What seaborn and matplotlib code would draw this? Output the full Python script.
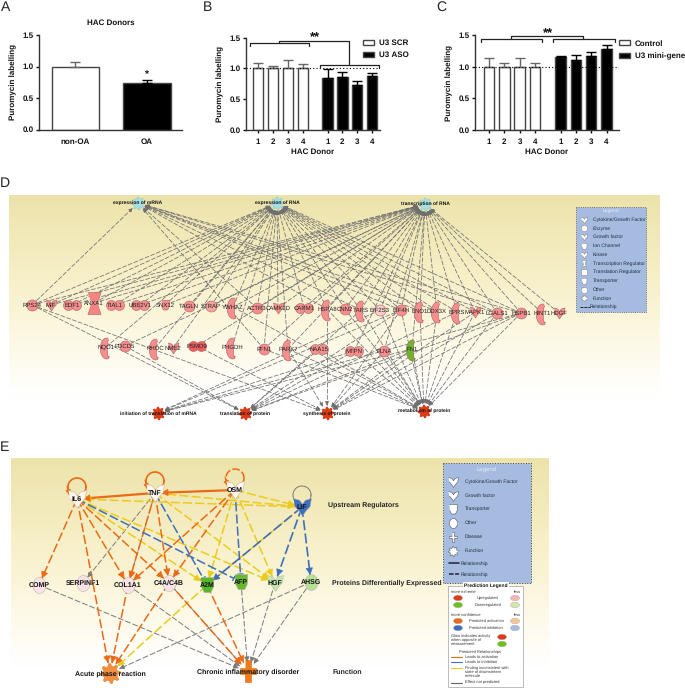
#!/usr/bin/env python
# -*- coding: utf-8 -*-
import numpy as np
import pandas as pd
import matplotlib
matplotlib.use("Agg")
import matplotlib.pyplot as plt
import seaborn as sns
from matplotlib.colors import LinearSegmentedColormap
from matplotlib.patches import Ellipse, Rectangle
from matplotlib.path import Path

# ---- bar chart values ----
a_labels = ["non-OA", "OA"]
a_means = [1.0, 0.745]
a_errs = [0.07, 0.04]

donors = ["1", "2", "3", "4", "1", "2", "3", "4"]

b_groups = ["U3 SCR"] * 4 + ["U3 ASO"] * 4
b_means = [1.0, 1.0, 1.0, 1.0, 0.84, 0.865, 0.73, 0.87]
b_errs = [0.09, 0.04, 0.13, 0.065, 0.145, 0.07, 0.06, 0.06]

c_groups = ["Control"] * 4 + ["U3 mini-gene"] * 4
c_means = [1.0, 1.0, 1.0, 1.0, 1.147, 1.10, 1.174, 1.274]
c_errs = [0.13, 0.063, 0.13, 0.058, 0.027, 0.09, 0.05, 0.075]

# ---- panel D network ----
d_functions_top = ["expression of mRNA", "expression of RNA", "transcription of RNA"]
d_functions_bottom = ["initiation of translation of mRNA", "translation of protein",
                      "synthesis of protein", "metabolism of protein"]
d_row1 = ["RPS24", "MIF", "EDF1", "ANXA1", "TIAL1", "UBE2V1", "SNX12", "TAGLN", "STRAP", "YWHAZ",
          "ACTR3", "CAMK2D", "CARM1", "HSPA8", "CNN2", "TARS", "EIF2S3", "EIF4H", "ENO1", "DDX3X",
          "EPRS", "MAPK1", "LGALS1", "HSPB1", "HINT1", "HDGF"]
d_row2 = ["NQO1", "PDCD5", "RHOC", "NME2", "PSMD9", "PHGDH", "PFN1", "PARK7", "NAA15", "MTPN",
          "FLNA", "FN1"]
d_to_mrna = ["RPS24", "PFN1", "ACTR3", "HSPA8", "TARS", "EIF4H", "DDX3X", "HSPB1", "ENO1", "LGALS1"]
d_to_rna = ["RPS24", "MIF", "EDF1", "ANXA1", "TIAL1", "UBE2V1", "SNX12", "TAGLN", "STRAP", "YWHAZ",
            "ACTR3", "CAMK2D", "CARM1", "HSPA8", "CNN2", "TARS", "EIF2S3", "EIF4H", "ENO1", "DDX3X",
            "EPRS", "MAPK1", "LGALS1", "HSPB1", "NQO1", "RHOC", "NME2", "PHGDH", "PFN1", "PARK7"]
d_to_transcription = ["RPS24", "MIF", "EDF1", "ANXA1", "TIAL1", "UBE2V1", "SNX12", "STRAP", "YWHAZ",
                      "ACTR3", "CAMK2D", "CARM1", "HSPA8", "CNN2", "TARS", "EIF2S3", "EIF4H", "ENO1",
                      "DDX3X", "EPRS", "MAPK1", "LGALS1", "HSPB1", "HINT1", "HDGF", "PDCD5", "PSMD9",
                      "PFN1", "PARK7", "MTPN", "FLNA", "FN1"]
d_to_initiation = ["EIF4H", "EIF2S3", "HSPB1", "MTPN", "FN1"]
d_to_translation = ["RPS24", "PDCD5", "NAA15", "EPRS", "TARS", "EIF4H", "FN1", "MTPN", "HSPB1"]
d_to_synthesis = ["RPS24", "PSMD9", "PARK7", "MAPK1", "HSPA8", "EIF4H", "HSPB1", "FN1", "FLNA", "LGALS1"]
d_to_metabolism = ["ENO1", "DDX3X", "EPRS", "MAPK1", "LGALS1", "HSPB1", "FN1", "CNN2", "TARS", "HSPA8",
                   "EIF2S3", "EIF4H", "PARK7", "MTPN", "FLNA", "NAA15", "PFN1", "YWHAZ"]
d_legend = ["Cytokine/Growth Factor", "Enzyme", "Growth factor", "Ion Channel", "Kinase",
            "Transcription Regulator", "Translation Regulator", "Transporter", "Other", "Function"]

# ---- panel E network ----
e_regulators = ["IL6", "TNF", "OSM", "LIF"]
e_proteins = ["COMP", "SERPINF1", "COL1A1", "C4A/C4B", "A2M", "AFP", "HGF", "AHSG"]
e_outcomes = ["Acute phase reaction", "Chronic inflammatory disorder"]
e_rows = ["Upstream Regulators", "Proteins Differentially Expressed", "Function"]
e_orange = [("IL6", "COMP"), ("IL6", "COL1A1"), ("IL6", "C4A/C4B"), ("IL6", "Acute phase reaction"),
            ("TNF", "C4A/C4B"), ("TNF", "COL1A1"), ("OSM", "COL1A1"), ("OSM", "C4A/C4B"),
            ("COL1A1", "Acute phase reaction"), ("C4A/C4B", "Acute phase reaction"),
            ("C4A/C4B", "Chronic inflammatory disorder"), ("A2M", "Chronic inflammatory disorder")]
e_yellow = [("TNF", "LIF"), ("OSM", "LIF"), ("LIF", "IL6"), ("IL6", "A2M"), ("IL6", "HGF"),
            ("TNF", "HGF"), ("OSM", "A2M"), ("OSM", "HGF"), ("LIF", "A2M"),
            ("A2M", "Acute phase reaction")]
e_blue = [("LIF", "A2M"), ("LIF", "HGF"), ("LIF", "AHSG")]
e_blue_block = [("IL6", "AFP"), ("TNF", "A2M"), ("OSM", "AFP")]
e_grey = [("TNF", "SERPINF1"), ("TNF", "COL1A1"), ("COMP", "Chronic inflammatory disorder"),
          ("COL1A1", "Chronic inflammatory disorder"), ("C4A/C4B", "Chronic inflammatory disorder"),
          ("AFP", "Chronic inflammatory disorder"), ("HGF", "Chronic inflammatory disorder"),
          ("AHSG", "Chronic inflammatory disorder"), ("AHSG", "Acute phase reaction")]
e_legend = ["Cytokine/Growth Factor", "Growth factor", "Transporter", "Other", "Disease", "Function"]

# ---- node positions in image pixels (layout only) ----
d_xy = dict(zip(d_functions_top, [(138, 203), (277, 203), (425, 204)]))
d_xy.update(zip(d_functions_bottom, [(158, 413), (245, 413), (327, 413), (424, 411)]))
d_row1_x = [32, 51, 72, 94, 115, 140, 165, 189, 211, 233, 257, 278, 304, 327, 345, 361, 380, 401,
            420, 437, 457, 475, 497, 521, 542, 559]
d_row1_y = [305, 305, 305, 303, 305, 305, 305, 306, 306, 307, 308, 308, 308, 309, 309, 310, 310, 310,
            311, 311, 312, 312, 313, 313, 313, 313]
d_row2_x = [106, 125, 155, 173, 197, 232, 264, 288, 319, 354, 384, 412]
d_row2_y = [347, 346, 348, 348, 346, 347, 349, 349, 349, 351, 351, 349]
d_xy.update({n: (x, y) for n, x, y in zip(d_row1, d_row1_x, d_row1_y)})
d_xy.update({n: (x, y) for n, x, y in zip(d_row2, d_row2_x, d_row2_y)})
e_xy = dict(zip(e_regulators, [(77, 499), (155, 493), (235, 490), (302, 507)]))
e_xy.update(zip(e_proteins, [(39, 585), (83, 583), (128, 585), (169, 583), (207, 585), (241, 582),
                             (275, 583), (311, 582)]))
e_xy.update(zip(e_outcomes, [(110, 673), (248, 672)]))

SANS = ["Liberation Sans", "DejaVu Sans"]
W, H = 685, 690
CHART_FS = 6

sns.set_theme(style="ticks", rc={"axes.linewidth": 1.0, "axes.edgecolor": "#333333",
                                 "xtick.color": "#111111", "ytick.color": "#111111",
                                 "axes.labelcolor": "#111111", "text.color": "#111111"})
plt.rcParams["font.family"] = SANS
# hinting widens the small labels a lot, glyph widths stay true without it
plt.rcParams["text.hinting"] = "no_hinting"
plt.rcParams["text.hinting_factor"] = 1

fig = plt.figure(figsize=(W / 100, H / 100), dpi=100)


def add_axes_px(left, right, top, bottom):
    return fig.add_axes([left / W, 1 - bottom / H, (right - left) / W, (bottom - top) / H])


def draw_bars(ax, pos, means, errs, groups, colors, width):
    df = pd.DataFrame({"pos": pos, "mean": means, "group": groups})
    sns.barplot(data=df, x="pos", y="mean", hue="group", palette=colors, dodge=False, native_scale=True,
                width=width, errorbar=None, edgecolor="#444444", linewidth=1.0, ax=ax)
    for p, m, e, g in zip(pos, means, errs, groups):
        col = "#666666" if colors[g] == "white" else "black"
        ax.errorbar([p], [m], yerr=[[0], [e]], fmt="none", ecolor=col, elinewidth=1.0, capsize=3.5, capthick=1.0)
    ax.set_ylim(0, 1.5)
    ax.set_yticks([0, 0.5, 1.0, 1.5])
    ax.set_yticklabels(["0.0", "0.5", "1.0", "1.5"], fontweight="bold", fontsize=CHART_FS)
    ax.set_ylabel("Puromycin labelling", fontweight="bold", fontsize=CHART_FS, labelpad=4)
    ax.tick_params(axis="both", length=2, width=1, pad=2)
    sns.despine(ax=ax)


# Panel A
ax_a = add_axes_px(39, 182, 35, 129.5)
draw_bars(ax_a, [0, 1], a_means, a_errs, a_labels, {"non-OA": "white", "OA": "black"}, 0.665)
if ax_a.get_legend():
    ax_a.get_legend().remove()
ax_a.set_xlim(-0.51, 1.49)
ax_a.set_xticks([0, 1])
ax_a.set_xticklabels(a_labels, fontweight="bold", fontsize=CHART_FS)
ax_a.tick_params(axis="x", length=0, pad=6)
ax_a.set_xlabel("")
ax_a.set_title("HAC Donors", fontweight="bold", fontsize=CHART_FS, pad=7)
ax_a.text(1, 0.80, "*", ha="center", va="bottom", fontweight="bold", fontsize=7)

# Panel B and C share the same layout
group_pos = [0, 1, 2, 3, 4.67, 5.67, 6.67, 7.67]
panels = [(b_means, b_errs, b_groups, {"U3 SCR": "white", "U3 ASO": "black"}, (246, 380, 37.7, 130),
           (-0.8, 8.19), (0.873, 0.98), 0.55),
          (c_means, c_errs, c_groups, {"Control": "white", "U3 mini-gene": "black"}, (475, 619, 35, 130),
           (-0.91, 8.48), (1.0, 0.95), 0.65)]
for means, errs, groups, colors, rect, xlim, anchor, spacing in panels:
    ax = add_axes_px(*rect)
    draw_bars(ax, group_pos, means, errs, groups, colors, 0.68)
    ax.axhline(1.0, color="black", lw=0.8, ls=(0, (1, 2)), zorder=5)
    ax.set_xlim(*xlim)
    ax.set_xticks(group_pos)
    ax.set_xticklabels(donors, fontweight="bold", fontsize=CHART_FS)
    ax.tick_params(axis="x", length=2, pad=4)
    ax.set_xlabel("HAC Donor", fontweight="bold", fontsize=CHART_FS, labelpad=2)
    sns.move_legend(ax, loc="upper left", bbox_to_anchor=anchor, title=None, frameon=False,
                    prop={"weight": "bold", "size": CHART_FS}, handlelength=1.35, handleheight=0.5,
                    handletextpad=0.55, labelspacing=spacing, borderpad=0, borderaxespad=0)

# overlay in image pixels for brackets, panel letters and both networks
ov = fig.add_axes([0, 0, 1, 1], zorder=5)
ov.patch.set_alpha(0)
ov.set_axis_off()


def gradient(x0, x1, y0, y1):
    cmap = LinearSegmentedColormap.from_list("bg", [(0, "#ece3ab"), (0.35, "#f7efc6"), (0.65, "#fdf9e6"),
                                                    (0.9, "#ffffff"), (1, "#ffffff")])
    ov.imshow(np.linspace(0, 1, 256).reshape(-1, 1), extent=(x0, x1, y1, y0), cmap=cmap, aspect="auto", zorder=0)


gradient(9.5, 660, 195, 420)
gradient(11, 549, 458, 690)
ov.set_xlim(0, W)
ov.set_ylim(H, 0)

for letter, x, y in [("A", 6, 7), ("B", 208, 7), ("C", 441, 7), ("D", 5, 183), ("E", 5, 447)]:
    ov.text(x, y, letter, ha="center", va="center", fontsize=10, color="#222222")


# significance brackets
def bracket(x0, x1, y, tick=3):
    ov.plot([x0, x0, x1, x1], [y + tick, y, y, y + tick], color="#222222", lw=0.9, zorder=3)


bracket(250, 309, 43)
bracket(320, 379, 65)
ov.plot([279, 279, 349, 349], [43, 41, 41, 64], color="#222222", lw=0.9, zorder=3)
ov.text(315, 38, "**", ha="center", va="center", fontweight="bold", fontsize=9)
bracket(481, 542, 39)
bracket(553, 615, 39)
ov.plot([511, 511, 583, 583], [39, 36, 36, 39], color="#222222", lw=0.9, zorder=3)
ov.text(548, 34, "**", ha="center", va="center", fontweight="bold", fontsize=9)


# ---- node shapes ----
def gear_path(teeth=8):
    ang = np.linspace(0, 2 * np.pi, teeth * 4, endpoint=False)
    r = np.tile([1, 1, 0.72, 0.72], teeth)
    return Path(np.c_[r * np.cos(ang), r * np.sin(ang)])


def crescent_path():
    t = np.linspace(np.pi * 0.42, np.pi * 1.62, 24)
    outer = np.c_[0.6 * np.cos(t) + 0.1, np.sin(t)]
    inner = np.c_[0.12 * np.cos(t[::-1]) + 0.3, 0.8 * np.sin(t[::-1])]
    return Path(np.r_[outer, inner])


def ellipse_path():
    t = np.linspace(0, 2 * np.pi, 40, endpoint=False)
    return Path(np.c_[0.8 * np.cos(t), np.sin(t)])


V_SHAPE = Path([(-1, 1), (-0.3, 0.8), (0, 0.35), (0.3, 0.8), (1, 1), (0.85, 0.1), (0.35, -0.45),
                (0, -1), (-0.35, -0.45), (-0.85, 0.1)])
BOWL = Path([(-0.8, 1), (0.8, 1), (0.75, -0.2), (0.4, -0.9), (-0.4, -0.9), (-0.75, -0.2)])
HOURGLASS = Path([(-0.6, 1), (0.6, 1), (0.25, 0), (0.6, -1), (-0.6, -1), (-0.25, 0)])
CROSS = Path([(-0.28, 1), (0.28, 1), (0.28, 0.3), (0.75, 0.3), (0.75, -0.3), (0.28, -0.3), (0.28, -1),
              (-0.28, -1), (-0.28, -0.3), (-0.75, -0.3), (-0.75, 0.3), (-0.28, 0.3)])


def node(x, y, marker, size, color, edge="#b06060", zorder=4):
    ov.scatter([x], [y], marker=marker, s=(size * 0.72) ** 2, color=color, edgecolors=edge, linewidths=0.4, zorder=zorder)


def edge(p, q, color, lw=0.6, ls=(0, (6, 2)), head=4, gap=5, block=False):
    p, q = np.array(p, float), np.array(q, float)
    d = (q - p) / np.hypot(*(q - p))
    end = q - d * gap
    ov.plot([p[0], end[0]], [p[1], end[1]], color=color, lw=lw, ls=ls, zorder=2)
    if block:
        n = np.array([-d[1], d[0]]) * 2.5
        ov.plot([end[0] - n[0], end[0] + n[0]], [end[1] - n[1], end[1] + n[1]], color=color, lw=1.0, zorder=2)
    else:
        ov.annotate("", xy=end, xytext=end - d * head,
                    arrowprops=dict(arrowstyle="-|>,head_width=0.2,head_length=0.4", color=color, lw=0.5,
                                    shrinkA=0, shrinkB=0, mutation_scale=head * 1.6), zorder=3)


# ---- panel D ----
D_GREY = "#6f6f6f"
links = [(d_to_mrna, d_functions_top[0]), (d_to_rna, d_functions_top[1]), (d_to_transcription, d_functions_top[2]),
         (d_to_initiation, d_functions_bottom[0]), (d_to_translation, d_functions_bottom[1]),
         (d_to_synthesis, d_functions_bottom[2]), (d_to_metabolism, d_functions_bottom[3])]
for sources, target in links:
    for s in sources:
        edge(d_xy[s], d_xy[target], D_GREY, lw=0.55, head=3.5, gap=7.5)

d_two = ["EDF1", "TIAL1", "UBE2V1", "CARM1", "PSMD9", "NAA15", "MTPN"]
d_crescent = ["YWHAZ", "HSPA8", "TARS", "ENO1", "DDX3X", "EPRS", "HINT1", "NQO1", "RHOC", "PHGDH", "PARK7", "FN1"]
d_v = ["MIF", "CAMK2D", "NME2", "MAPK1", "HDGF"]
PINK = "#f58f8f"
CRES = crescent_path()
for name in d_row1 + d_row2:
    x, y = d_xy[name]
    col = {"PSMD9": "#ee6060", "FN1": "#6cb52d", "EIF2S3": "#fbcfc8", "STRAP": "#f7a4a0"}.get(name, PINK)
    if name in d_two:
        node(x - 4, y, "o", 10, col)
        node(x + 4, y, "o", 10, col)
    elif name in d_crescent:
        node(x - 1, y + 1, CRES, 21, col)
    elif name in d_v:
        node(x, y, V_SHAPE, 11, col)
    elif name == "ANXA1":
        node(x, y, HOURGLASS, 22, "#f58585")
    elif name == "SNX12":
        node(x, y, BOWL, 10, col)
    else:
        node(x, y, "o", 11, col)
    ov.text(x, y, name, ha="center", va="center", fontsize=4.1, color="#222222", zorder=6)

for name in d_functions_top:
    x, y = d_xy[name]
    node(x, y, gear_path(), 13, "#a6dfe4", edge="#8fc8cc")
    ov.text(x, y, name, ha="center", va="center", fontsize=3.95, fontweight="bold", zorder=6)
for name in d_functions_bottom:
    x, y = d_xy[name]
    node(x, y, gear_path(), 13, "#e13a12", edge="#c43010")
    ov.text(x, y + (1 if name != d_functions_bottom[3] else 0), name, ha="center", va="center",
            fontsize=3.95, fontweight="bold", zorder=6)

# Panel D legend
ov.add_patch(Rectangle((576, 207), 70, 105, fc="#a5bce0", ec="#555555", lw=0.6, ls=":", zorder=3))
ov.text(611, 211, "Legend", ha="center", va="center", fontsize=3.5, color="#e8eefa", zorder=4)
d_legend_y = np.arange(len(d_legend)) * 8.75 + 219.5
for i, (txt, y) in enumerate(zip(d_legend, d_legend_y)):
    ov.text(593, y, txt, va="center", fontsize=3.5, color="#1f2a3c", zorder=4)
    mk = [V_SHAPE, "o", V_SHAPE, BOWL, V_SHAPE, HOURGLASS, "s", BOWL, "o", gear_path()][i]
    node(584, y, mk, 6.5, "white", edge="#888888", zorder=4)
ov.plot([580, 590], [307, 307], color="#222222", lw=0.7, ls=(0, (3, 1)), zorder=4)
ov.text(590, 307, "Relationship", va="center", fontsize=3.5, color="#1f2a3c", zorder=4)

# ---- panel E ----
ORANGE, YELLOW, BLUE, GREY = "#ec6a15", "#eccb1e", "#3f6fbc", "#7a7a7a"
for pairs, color, lw in [(e_grey, GREY, 0.7), (e_yellow, YELLOW, 1.1), (e_orange, ORANGE, 1.1), (e_blue, BLUE, 1.2)]:
    for s, t in pairs:
        gap = 10 if t in e_outcomes else 7
        edge(e_xy[s], e_xy[t], color, lw=lw, head=7 if color != GREY else 5, gap=gap)
for s, t in e_blue_block:
    edge(e_xy[s], e_xy[t], BLUE, lw=1.1, gap=8, block=True)
edge(e_xy["TNF"], e_xy["IL6"], ORANGE, lw=1.6, ls="-", head=7, gap=6)
edge(e_xy["OSM"], e_xy["TNF"], ORANGE, lw=1.6, ls="-", head=7, gap=6)

# self loops above the upstream regulators
loops = [("IL6", ORANGE, "-", 1.2), ("TNF", ORANGE, "-", 1.2), ("OSM", ORANGE, (0, (5, 1.5)), 1.1), ("LIF", "#777777", "-", 0.7)]
t = np.linspace(0, 2 * np.pi, 60)
for name, color, ls, lw in loops:
    x, y = e_xy[name]
    ov.plot(x + 9 * np.cos(t), y - 12 + 9 * np.sin(t), color=color, lw=lw, ls=ls, zorder=2)
    if color == ORANGE:
        edge((x - 10, y - 13), (x - 7, y - 2), color, lw=0.8, ls="-", head=5, gap=2)

node_col = {"COMP": "#fde3e6", "SERPINF1": "#fde3e6", "COL1A1": "#fde3e6", "C4A/C4B": "#fde3e6",
            "A2M": "#5ab52a", "AFP": "#69b92f", "HGF": "#c3e8ab", "AHSG": "#b5e296",
            "IL6": "#fff6ee", "TNF": "#fff6ee", "OSM": "#fff6ee", "LIF": "#3f70c0"}
ELL = ellipse_path()
for name in e_regulators:
    x, y = e_xy[name]
    node(x, y, V_SHAPE, 18, node_col[name], edge="#c8b8a0")
    ov.text(x, y, name, ha="center", va="center", fontsize=5.0, fontweight="bold", zorder=6)
for name in e_proteins:
    x, y = e_xy[name]
    mk = BOWL if name in ("A2M", "AFP") else V_SHAPE if name == "HGF" else ELL
    node(x, y, mk, 16, node_col[name], edge="#b8b8b8")
    ov.text(x, y, name, ha="center", va="center", fontsize=5.0, fontweight="bold", zorder=6)

x, y = e_xy[e_outcomes[0]]
node(x, y, gear_path(), 20, "#f09040", edge="#e08030")
ov.text(x, y + 0.5, e_outcomes[0], ha="center", va="center", fontsize=4.9, fontweight="bold", zorder=6)
x, y = e_xy[e_outcomes[1]]
node(x, y - 1, CROSS, 22, "#ee7a1c", edge="#dd6a10")
ov.text(x, y, e_outcomes[1], ha="center", va="center", fontsize=4.9, fontweight="bold", zorder=6)

for txt, tx, ty in zip(e_rows, [328, 332, 333], [505, 583, 672]):
    ov.text(tx, ty, txt, va="center", fontsize=5.0, fontweight="bold", color="#222222", zorder=6)

# Panel E legends
ov.add_patch(Rectangle((443, 463), 88, 120, fc="#a5bce0", ec="#444444", lw=0.7, ls=":", zorder=3))
ov.text(487, 469, "Legend", ha="center", va="center", fontsize=4.5, color="#e8eefa", zorder=4)
e_legend_y = [481.5, 495.5, 509, 523, 536.5, 550.5]
for txt, y, mk in zip(e_legend, e_legend_y, [V_SHAPE, V_SHAPE, BOWL, ELL, CROSS, gear_path()]):
    ov.text(465, y, txt, va="center", fontsize=3.9, color="#1f2a3c", zorder=4)
    node(453.5, y, mk, 10, "white", edge="#555555", zorder=4)
for y, ls in [(563.3, "-"), (574.3, (0, (3, 1)))]:
    ov.plot([449, 459], [y, y], color="#222233", lw=1.1, ls=ls, zorder=4)
    ov.text(461, y, "Relationship", va="center", fontsize=3.9, color="#1f2a3c", zorder=4)

ov.add_patch(Rectangle((448, 586), 75, 101, fc="white", ec="#bbbbbb", lw=0.7, zorder=3))
ov.text(486, 586, "Prediction Legend", ha="center", va="center", fontsize=3.6, fontweight="bold", zorder=5,
        bbox=dict(fc="white", ec="none", pad=1))
small = [("more extreme", 451, 592, "left"), ("less", 514, 592, "left"), ("Upregulated", 488, 598, "center"),
         ("Downregulated", 488, 605, "center"), ("more confidence", 451, 615, "left"), ("less", 514, 615, "left"),
         ("Predicted activation", 486, 621, "center"), ("Predicted inhibition", 486, 628, "center"),
         ("Glow indicates activity\nwhen opposite of\nmeasurement", 451, 640, "left"),
         ("Predicted Relationships", 480, 652, "center"), ("Leads to activation", 465, 657, "left"),
         ("Leads to inhibition", 465, 662, "left"),
         ("Finding inconsistent with\nstate of downstream\nmolecule", 465, 672, "left"),
         ("Effect not predicted", 465, 682.5, "left")]
for txt, x, y, ha in small:
    ov.text(x, y, txt, ha=ha, va="center", fontsize=3.1, color="#333333", linespacing=1.05, zorder=5)
swatches = [(458, 598, "#e03a1c"), (458, 605, "#6cc01a"), (458, 621, "#ec6a15"), (458, 628, "#3f6fbc"),
            (515, 598, "#f9b4b4"), (515, 605, "#cfe9a8"), (515, 621, "#f5c596"), (515, 628, "#a5bce0"),
            (502, 637, "#e03a1c"), (502, 644, "#6cc01a")]
for x, y, col in swatches:
    ov.add_patch(Ellipse((x, y), 9, 5.5, fc=col, ec="#aaaaaa", lw=0.3, zorder=5))
for y, col in [(657, ORANGE), (662, BLUE), (667.5, YELLOW), (682.5, "#666666")]:
    ov.plot([451, 462], [y, y], color=col, lw=0.8, zorder=5)

fig.savefig("out.png", dpi=100)
